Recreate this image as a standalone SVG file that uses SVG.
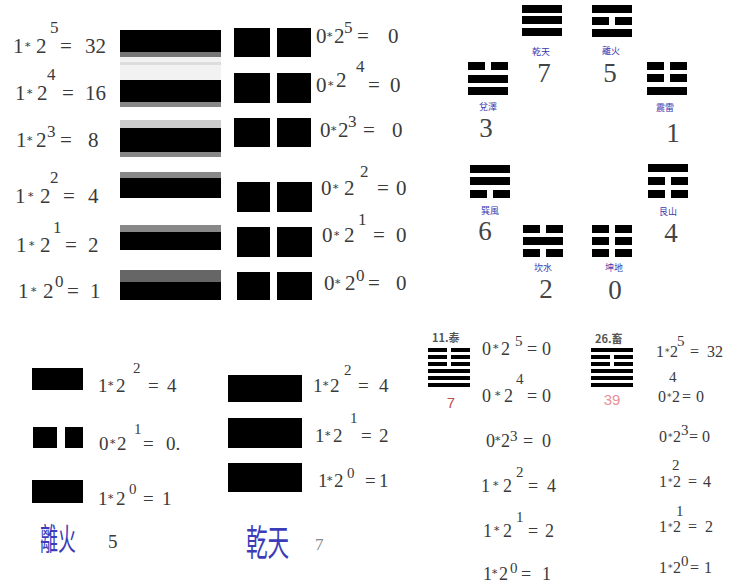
<svg xmlns="http://www.w3.org/2000/svg" xmlns:xlink="http://www.w3.org/1999/xlink" width="740" height="584" viewBox="0 0 740 584">
<style>
.e{font-family:"Liberation Serif","DejaVu Serif",serif;font-size:21px;fill:#3a3a3a}
.s{font-size:17px}
.e2{font-family:"Liberation Serif","DejaVu Serif",serif;font-size:19px;fill:#3a3a3a}
.e3{font-family:"Liberation Serif","DejaVu Serif",serif;font-size:18px;fill:#3a3a3a}
.e4{font-family:"Liberation Serif","DejaVu Serif",serif;font-size:16px;fill:#3a3a3a}
.s2{font-size:15px}
.st{font-family:"DejaVu Serif",serif;font-size:11px}
.st2{font-family:"DejaVu Serif",serif;font-size:9px}
.num{font-family:"Liberation Serif","DejaVu Serif",serif;font-size:27px;fill:#444;text-anchor:middle}
.lb{font-family:"Noto Sans CJK TC","Noto Sans CJK SC",sans-serif;font-size:9px;fill:#3b3bb0;text-anchor:middle}
.big{font-family:"Noto Sans CJK TC","Noto Sans CJK SC",sans-serif;fill:#3c3cb8}
.k{fill:#000}
.hx{font-family:"Noto Sans CJK TC","Noto Sans CJK SC",sans-serif;font-size:11px;font-weight:bold;fill:#555}
</style>
<defs>
<rect id="sol" width="40" height="8" fill="#000"/>
<g id="brk"><rect width="17" height="8" fill="#000"/><rect x="23" width="17" height="8" fill="#000"/></g>
<rect id="hs" width="42" height="4" fill="#000"/>
<g id="hb"><rect width="19" height="4" fill="#000"/><rect x="23" width="19" height="4" fill="#000"/></g>
</defs>
<rect width="740" height="584" fill="#fff"/>

<g id="solid-column">
<rect x="120" y="57" width="101" height="23" fill="#f2f2f2"/>
<rect x="120" y="62" width="101" height="3" fill="#ddd"/>
<rect x="120" y="30" width="101" height="22" class="k"/>
<rect x="120" y="52" width="101" height="5" fill="#777"/>
<rect x="120" y="80" width="101" height="22" class="k"/>
<rect x="120" y="102" width="101" height="5" fill="#888"/>
<rect x="120" y="120" width="101" height="8" fill="#ccc"/>
<rect x="120" y="128" width="101" height="24" class="k"/>
<rect x="120" y="152" width="101" height="5" fill="#888"/>
<rect x="120" y="172" width="101" height="6" fill="#888"/>
<rect x="120" y="178" width="101" height="20" class="k"/>
<rect x="120" y="225" width="101" height="7" fill="#888"/>
<rect x="120" y="232" width="101" height="18" class="k"/>
<rect x="120" y="270" width="101" height="12" fill="#666"/>
<rect x="120" y="282" width="101" height="18" class="k"/>
</g>

<g id="solid-equations">
<text class="e" y="53"><tspan x="13">1</tspan><tspan class="st" x="24" y="48">∗</tspan><tspan x="36" y="53">2</tspan><tspan class="s" x="50" y="33">5</tspan><tspan x="60" y="53">=</tspan><tspan x="85">32</tspan></text>
<text class="e" y="100"><tspan x="15">1</tspan><tspan class="st" x="26" y="95">∗</tspan><tspan x="37" y="100">2</tspan><tspan class="s" x="47" y="80">4</tspan><tspan x="62" y="100">=</tspan><tspan x="85">16</tspan></text>
<text class="e" y="147"><tspan x="16">1</tspan><tspan class="st" x="26" y="142">∗</tspan><tspan x="36" y="147">2</tspan><tspan class="s" x="47" y="137">3</tspan><tspan x="60" y="147">=</tspan><tspan x="88">8</tspan></text>
<text class="e" y="203"><tspan x="15">1</tspan><tspan class="st" x="27" y="198">∗</tspan><tspan x="40" y="203">2</tspan><tspan class="s" x="50" y="183">2</tspan><tspan x="63" y="203">=</tspan><tspan x="88">4</tspan></text>
<text class="e" y="252"><tspan x="16">1</tspan><tspan class="st" x="28" y="247">∗</tspan><tspan x="40" y="252">2</tspan><tspan class="s" x="53" y="233">1</tspan><tspan x="65" y="252">=</tspan><tspan x="88">2</tspan></text>
<text class="e" y="298"><tspan x="18">1</tspan><tspan class="st" x="30" y="293">∗</tspan><tspan x="43" y="298">2</tspan><tspan class="s" x="55" y="287">0</tspan><tspan x="67" y="298">=</tspan><tspan x="90">1</tspan></text>
</g>

<g id="broken-column">
<rect x="234" y="28" width="36" height="29" class="k"/><rect x="277" y="28" width="34" height="29" class="k"/>
<rect x="234" y="73" width="36" height="30" class="k"/><rect x="277" y="73" width="34" height="30" class="k"/>
<rect x="234" y="118" width="36" height="29" class="k"/><rect x="277" y="118" width="34" height="29" class="k"/>
<rect x="237" y="182" width="33" height="30" class="k"/><rect x="277" y="182" width="35" height="30" class="k"/>
<rect x="237" y="227" width="33" height="30" class="k"/><rect x="277" y="227" width="35" height="30" class="k"/>
<rect x="237" y="272" width="33" height="28" class="k"/><rect x="277" y="272" width="35" height="28" class="k"/>
</g>

<g id="broken-equations">
<text class="e" y="43"><tspan x="316">0</tspan><tspan class="st" x="326" y="38">∗</tspan><tspan x="334" y="43">2</tspan><tspan class="s" x="344" y="33">5</tspan><tspan x="357" y="43">=</tspan><tspan x="388">0</tspan></text>
<text class="e" y="92"><tspan x="316">0</tspan><tspan class="st" x="327" y="87">∗</tspan><tspan x="336">2</tspan><tspan class="s" x="356" y="72">4</tspan><tspan x="368" y="92">=</tspan><tspan x="390">0</tspan></text>
<text class="e" y="137"><tspan x="320">0</tspan><tspan class="st" x="330" y="132">∗</tspan><tspan x="338" y="137">2</tspan><tspan class="s" x="348" y="127">3</tspan><tspan x="363" y="137">=</tspan><tspan x="392">0</tspan></text>
<text class="e" y="195"><tspan x="321">0</tspan><tspan class="st" x="332" y="190">∗</tspan><tspan x="344" y="195">2</tspan><tspan class="s" x="360" y="177">2</tspan><tspan x="377" y="195">=</tspan><tspan x="396">0</tspan></text>
<text class="e" y="242"><tspan x="322">0</tspan><tspan class="st" x="333" y="237">∗</tspan><tspan x="344" y="242">2</tspan><tspan class="s" x="358" y="225">1</tspan><tspan x="373" y="242">=</tspan><tspan x="396">0</tspan></text>
<text class="e" y="290"><tspan x="324">0</tspan><tspan class="st" x="334" y="285">∗</tspan><tspan x="345" y="290">2</tspan><tspan class="s" x="356" y="281">0</tspan><tspan x="368" y="290">=</tspan><tspan x="396">0</tspan></text>
</g>

<g id="trigram-qian">
<use xlink:href="#sol" x="522" y="5"/><use xlink:href="#sol" x="522" y="16"/><use xlink:href="#sol" x="522" y="28"/>
<text class="lb" x="541" y="55">乾天</text><text class="num" x="544" y="82">7</text>
</g>
<g id="trigram-li">
<use xlink:href="#sol" x="592" y="5"/><use xlink:href="#brk" x="592" y="17"/><use xlink:href="#sol" x="592" y="29"/>
<text class="lb" x="611" y="54">離火</text><text class="num" x="610" y="82">5</text>
</g>
<g id="trigram-dui">
<use xlink:href="#brk" x="468" y="62"/><use xlink:href="#sol" x="468" y="75"/><use xlink:href="#sol" x="468" y="87"/>
<text class="lb" x="488" y="110">兌澤</text><text class="num" x="486" y="137">3</text>
</g>
<g id="trigram-zhen">
<use xlink:href="#brk" x="647" y="62"/><use xlink:href="#brk" x="647" y="74"/><use xlink:href="#sol" x="647" y="87"/>
<text class="lb" x="665" y="111">震雷</text><text class="num" x="673" y="142">1</text>
</g>
<g id="trigram-xun">
<use xlink:href="#sol" x="470" y="165"/><use xlink:href="#sol" x="470" y="177"/><use xlink:href="#brk" x="470" y="190"/>
<text class="lb" x="490" y="214">巽風</text><text class="num" x="485" y="240">6</text>
</g>
<g id="trigram-gen">
<use xlink:href="#sol" x="648" y="164"/><use xlink:href="#brk" x="648" y="177"/><use xlink:href="#brk" x="648" y="190"/>
<text class="lb" x="668" y="215">艮山</text><text class="num" x="671" y="242">4</text>
</g>
<g id="trigram-kan">
<use xlink:href="#brk" x="523" y="225"/><use xlink:href="#sol" x="523" y="237"/><use xlink:href="#brk" x="523" y="249"/>
<text class="lb" x="543" y="271">坎水</text><text class="num" x="546" y="298">2</text>
</g>
<g id="trigram-kun">
<use xlink:href="#brk" x="592" y="225"/><use xlink:href="#brk" x="592" y="237"/><use xlink:href="#brk" x="592" y="249"/>
<text class="lb" x="614" y="271">坤地</text><text class="num" x="615" y="299">0</text>
</g>

<g id="example-li">
<rect x="32" y="368" width="51" height="22" class="k"/>
<rect x="33" y="427" width="24" height="21" class="k"/><rect x="65" y="427" width="18" height="21" class="k"/>
<rect x="32" y="480" width="51" height="23" class="k"/>
<text class="e2" y="392"><tspan x="98">1</tspan><tspan class="st" x="107" y="387">∗</tspan><tspan x="116" y="392">2</tspan><tspan class="s2" x="133" y="373">2</tspan><tspan x="148" y="392">=</tspan><tspan x="167">4</tspan></text>
<text class="e2" y="450"><tspan x="99">0</tspan><tspan class="st" x="109" y="445">∗</tspan><tspan x="117" y="450">2</tspan><tspan class="s2" x="134" y="434">1</tspan><tspan x="143" y="450">=</tspan><tspan x="166">0.</tspan></text>
<text class="e2" y="505"><tspan x="98">1</tspan><tspan class="st" x="107" y="500">∗</tspan><tspan x="116" y="505">2</tspan><tspan class="s2" x="129" y="494">0</tspan><tspan x="143" y="505">=</tspan><tspan x="162">1</tspan></text>
<text class="big" transform="translate(40,550) scale(0.58,1)" font-size="31">離火</text>
<text class="e2" x="108" y="548">5</text>
</g>

<g id="example-qian">
<rect x="228" y="375" width="74" height="27" class="k"/>
<rect x="228" y="418" width="74" height="30" class="k"/>
<rect x="228" y="463" width="74" height="29" class="k"/>
<text class="e2" y="392"><tspan x="313">1</tspan><tspan class="st" x="322" y="387">∗</tspan><tspan x="330" y="392">2</tspan><tspan class="s2" x="344" y="375">2</tspan><tspan x="358" y="392">=</tspan><tspan x="379">4</tspan></text>
<text class="e2" y="442"><tspan x="315">1</tspan><tspan class="st" x="324" y="437">∗</tspan><tspan x="333" y="442">2</tspan><tspan class="s2" x="350" y="423">1</tspan><tspan x="361" y="442">=</tspan><tspan x="379">2</tspan></text>
<text class="e2" y="487"><tspan x="318">1</tspan><tspan class="st" x="326" y="482">∗</tspan><tspan x="334" y="487">2</tspan><tspan class="s2" x="347" y="478">0</tspan><tspan x="365" y="487">=</tspan><tspan x="379">1</tspan></text>
<text class="big" transform="translate(246,556) scale(0.6,1)" font-size="36">乾天</text>
<text x="315" y="550" font-family="Liberation Serif, serif" font-size="17" fill="#888">7</text>
</g>

<g id="hexagram-11">
<text class="hx" x="432" y="342">11.泰</text>
<use xlink:href="#hb" x="428" y="348"/><use xlink:href="#hb" x="428" y="355"/><use xlink:href="#hb" x="428" y="362"/>
<use xlink:href="#hs" x="428" y="369"/><use xlink:href="#hs" x="428" y="376"/><use xlink:href="#hs" x="428" y="383"/>
<text x="451" y="408" font-family="Liberation Sans, sans-serif" font-size="15" fill="#c0504d" text-anchor="middle">7</text>
<text class="e3" y="355"><tspan x="482">0</tspan><tspan class="st" x="492" y="350">∗</tspan><tspan x="501" y="355">2</tspan><tspan class="s2" x="515" y="346">5</tspan><tspan x="527" y="355">=</tspan><tspan x="542">0</tspan></text>
<text class="e3" y="402"><tspan x="482">0</tspan><tspan class="st" x="494" y="397">∗</tspan><tspan x="504" y="402">2</tspan><tspan class="s2" x="516" y="384">4</tspan><tspan x="527" y="402">=</tspan><tspan x="542">0</tspan></text>
<text class="e3" y="447"><tspan x="486">0</tspan><tspan class="st" x="494" y="442">∗</tspan><tspan x="501" y="447">2</tspan><tspan class="s2" x="510" y="441">3</tspan><tspan x="523" y="447">=</tspan><tspan x="542">0</tspan></text>
<text class="e3" y="492"><tspan x="481">1</tspan><tspan class="st" x="492" y="487">∗</tspan><tspan x="503" y="492">2</tspan><tspan class="s2" x="516" y="477">2</tspan><tspan x="528" y="492">=</tspan><tspan x="547">4</tspan></text>
<text class="e3" y="537"><tspan x="483">1</tspan><tspan class="st" x="493" y="532">∗</tspan><tspan x="503" y="537">2</tspan><tspan class="s2" x="516" y="522">1</tspan><tspan x="528" y="537">=</tspan><tspan x="545">2</tspan></text>
<text class="e3" y="580"><tspan x="483">1</tspan><tspan class="st" x="491" y="575">∗</tspan><tspan x="499" y="580">2</tspan><tspan class="s2" x="510" y="573">0</tspan><tspan x="521" y="580">=</tspan><tspan x="542">1</tspan></text>
</g>

<g id="hexagram-26">
<text class="hx" x="595" y="343">26.畜</text>
<use xlink:href="#hs" x="591" y="348"/><use xlink:href="#hb" x="591" y="355"/><use xlink:href="#hb" x="591" y="362"/>
<use xlink:href="#hs" x="591" y="369"/><use xlink:href="#hs" x="591" y="376"/><use xlink:href="#hs" x="591" y="383"/>
<text x="612" y="405" font-family="Liberation Sans, sans-serif" font-size="15" fill="#e8909a" text-anchor="middle">39</text>
<text class="e4" y="357"><tspan x="656">1</tspan><tspan class="st2" x="664" y="353">∗</tspan><tspan x="670" y="357">2</tspan><tspan class="s2" x="677" y="346">5</tspan><tspan x="690" y="357">=</tspan><tspan x="707">32</tspan></text>
<text class="e4" y="402"><tspan x="658">0</tspan><tspan class="st2" x="666" y="398">∗</tspan><tspan x="672" y="402">2</tspan><tspan class="s2" x="669" y="382">4</tspan><tspan x="682" y="402">=</tspan><tspan x="696">0</tspan></text>
<text class="e4" y="442"><tspan x="659">0</tspan><tspan class="st2" x="667" y="438">∗</tspan><tspan x="673" y="442">2</tspan><tspan class="s2" x="681" y="435">3</tspan><tspan x="689" y="442">=</tspan><tspan x="702">0</tspan></text>
<text class="e4" y="487"><tspan x="659">1</tspan><tspan class="st2" x="667" y="483">∗</tspan><tspan x="673" y="487">2</tspan><tspan class="s2" x="672" y="470">2</tspan><tspan x="688" y="487">=</tspan><tspan x="703">4</tspan></text>
<text class="e4" y="532"><tspan x="659">1</tspan><tspan class="st2" x="667" y="528">∗</tspan><tspan x="673" y="532">2</tspan><tspan class="s2" x="676" y="516">1</tspan><tspan x="688" y="532">=</tspan><tspan x="705">2</tspan></text>
<text class="e4" y="573"><tspan x="659">1</tspan><tspan class="st2" x="667" y="569">∗</tspan><tspan x="673" y="573">2</tspan><tspan class="s2" x="681" y="566">0</tspan><tspan x="690" y="573">=</tspan><tspan x="704">1</tspan></text>
</g>
</svg>
